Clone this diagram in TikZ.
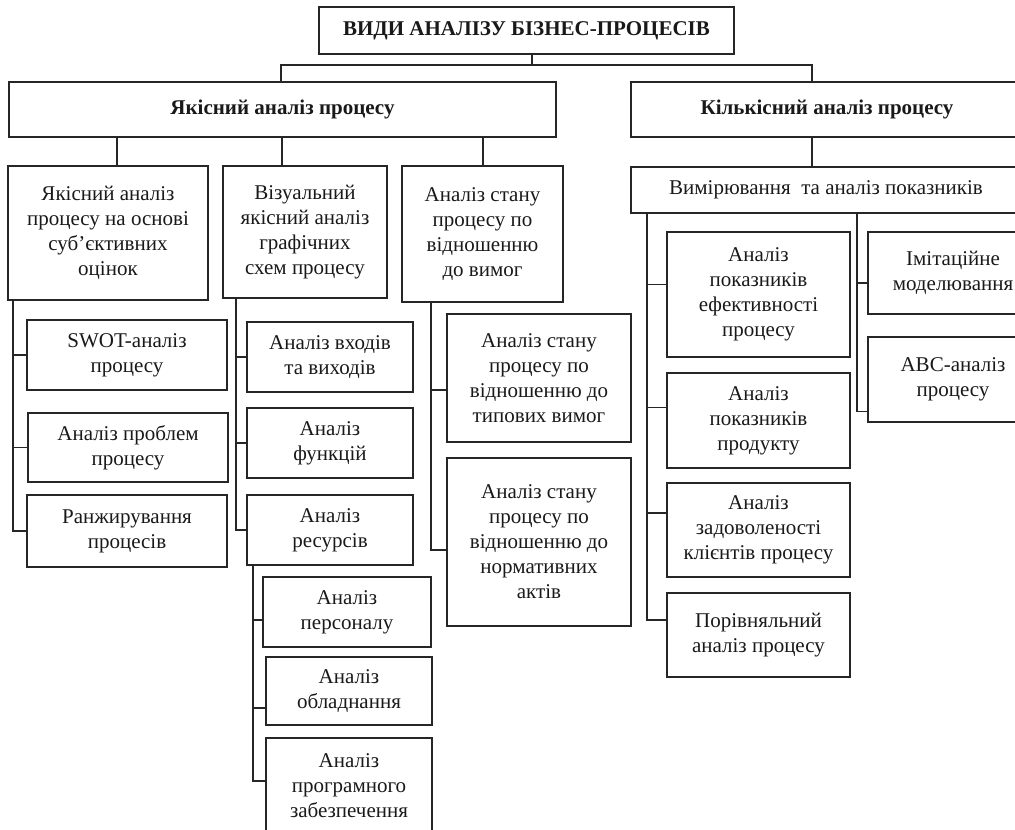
\documentclass[tikz,border=0pt]{standalone}
\usepackage{fontspec}
\setmainfont{Liberation Serif}
\begin{document}
\begin{tikzpicture}[x=1pt,y=-1pt,
  box/.style={draw=black!85, line width=1.4pt, inner sep=2pt, outer sep=0pt,
    align=center, anchor=north west, text=black!90,
    font=\fontsize{21}{25}\selectfont},
  hbox/.style={box, font=\bfseries\fontsize{21}{25}\selectfont},
  link/.style={draw=black!85, line width=1.4pt}]
\useasboundingbox (0,0) rectangle (1015,830);
\begin{scope}
\clip (0,0) rectangle (1015,830);
% top levels
\node[hbox, minimum width=415pt, minimum height=47pt] (title) at (319,7) {ВИДИ АНАЛІЗУ БІЗНЕС-ПРОЦЕСІВ};
\node[hbox, minimum width=547pt, minimum height=55pt] (ql) at (9,82) {Якісний аналіз процесу};
\node[hbox, minimum width=392pt, minimum height=55pt] (kl) at (631,82) {Кількісний аналіз процесу};
% qualitative children
\node[box, minimum width=200pt, minimum height=134pt] (a) at (8,166) {Якісний аналіз\\процесу на основі\\суб’єктивних\\оцінок};
\node[box, minimum width=164pt, minimum height=132pt] (b) at (223,166) {Візуальний\\якісний аналіз\\графічних\\схем процесу};
\node[box, minimum width=161pt, minimum height=136pt] (c) at (402,166) {Аналіз стану\\процесу по\\відношенню\\до вимог};
% quantitative child
\node[box, minimum width=390pt, minimum height=46pt] (vm) at (631,167) {Вимірювання\ \ та аналіз показників};
% a children
\node[box, minimum width=200pt, minimum height=70pt] (a1) at (27,320) {SWOT-аналіз\\процесу};
\node[box, minimum width=200pt, minimum height=69pt] (a2) at (28,413) {Аналіз проблем\\процесу};
\node[box, minimum width=200pt, minimum height=72pt] (a3) at (27,495) {Ранжирування\\процесів};
% b children
\node[box, minimum width=166pt, minimum height=70pt] (b1) at (247,322) {Аналіз входів\\та виходів};
\node[box, minimum width=166pt, minimum height=70pt] (b2) at (247,408) {Аналіз\\функцій};
\node[box, minimum width=166pt, minimum height=70pt] (b3) at (247,495) {Аналіз\\ресурсів};
% resources children
\node[box, minimum width=168pt, minimum height=70pt] (r1) at (263,577) {Аналіз\\персоналу};
\node[box, minimum width=166pt, minimum height=68pt] (r2) at (266,657) {Аналіз\\обладнання};
\node[box, minimum width=166pt, minimum height=96pt] (r3) at (266,738) {Аналіз\\програмного\\забезпечення};
% c children
\node[box, minimum width=184pt, minimum height=128pt] (c1) at (447,314) {Аналіз стану\\процесу по\\відношенню до\\типових вимог};
\node[box, minimum width=184pt, minimum height=168pt] (c2) at (447,458) {Аналіз стану\\процесу по\\відношенню до\\нормативних\\актів};
% vm children
\node[box, minimum width=183pt, minimum height=125pt] (v1) at (667,232) {Аналіз\\показників\\ефективності\\процесу};
\node[box, minimum width=183pt, minimum height=95pt] (v2) at (667,373) {Аналіз\\показників\\продукту};
\node[box, minimum width=183pt, minimum height=94pt] (v3) at (667,483) {Аналіз\\задоволеності\\клієнтів процесу};
\node[box, minimum width=183pt, minimum height=84pt] (v4) at (667,593) {Порівняльний\\аналіз процесу};
\node[box, minimum width=170pt, minimum height=82pt] (w1) at (868,232) {Імітаційне\\моделювання};
\node[box, minimum width=170pt, minimum height=85pt] (w2) at (868,337) {ABC-аналіз\\процесу};
% connectors: top
\coordinate (j0) at (532,65);
\coordinate (jq) at (281,65);
\coordinate (jk) at (812,65);
\draw[link] (title.south -| j0) -- (j0);
\draw[link] (jq |- ql.north) -- (jq) -- (jk) -- (jk |- kl.north);
\coordinate (xa) at (117,0);
\coordinate (xb) at (282,0);
\coordinate (xc) at (483,0);
\draw[link] (xa |- ql.south) -- (xa |- a.north);
\draw[link] (xb |- ql.south) -- (xb |- b.north);
\draw[link] (xc |- ql.south) -- (xc |- c.north);
\draw[link] (jk |- kl.south) -- (jk |- vm.north);
% spine a
\coordinate (sa) at (13,0);
\draw[link] (sa |- a.south) -- (sa |- a3.west) -- (a3.west);
\draw[link] (sa |- a1.west) -- (a1.west);
\draw[link] (sa |- a2.west) -- (a2.west);
% spine b
\coordinate (sb) at (236,0);
\draw[link] (sb |- b.south) -- (sb |- b3.west) -- (b3.west);
\draw[link] (sb |- b1.west) -- (b1.west);
\draw[link] (sb |- b2.west) -- (b2.west);
% spine resources
\coordinate (sr) at (253,0);
\coordinate (tr1) at ([yshift=-8pt]r1.west);
\coordinate (tr2) at ([yshift=-17pt]r2.west);
\coordinate (tr3) at ([yshift=5pt]r3.west);
\draw[link] (sr |- b3.south) -- (sr |- tr3) -- (tr3);
\draw[link] (sr |- tr1) -- (tr1);
\draw[link] (sr |- tr2) -- (tr2);
% spine c
\coordinate (sc) at (431,0);
\coordinate (tc1) at ([yshift=-12pt]c1.west);
\coordinate (tc2) at ([yshift=-8pt]c2.west);
\draw[link] (sc |- c.south) -- (sc |- tc2) -- (tc2);
\draw[link] (sc |- tc1) -- (tc1);
% spine v
\coordinate (sv) at (647,0);
\coordinate (tv1) at ([yshift=10pt]v1.west);
\coordinate (tv2) at ([yshift=13pt]v2.west);
\coordinate (tv3) at ([yshift=17pt]v3.west);
\coordinate (tv4) at ([yshift=15pt]v4.west);
\draw[link] (sv |- vm.south) -- (sv |- tv4) -- (tv4);
\draw[link] (sv |- tv1) -- (tv1);
\draw[link] (sv |- tv2) -- (tv2);
\draw[link] (sv |- tv3) -- (tv3);
% spine w
\coordinate (sw) at (857,0);
\coordinate (tw1) at ([yshift=-10pt]w1.west);
\coordinate (tw2) at ([yshift=-32pt]w2.west);
\draw[link] (sw |- vm.south) -- (sw |- tw2) -- (tw2);
\draw[link] (sw |- tw1) -- (tw1);
\end{scope}
\end{tikzpicture}
\end{document}
